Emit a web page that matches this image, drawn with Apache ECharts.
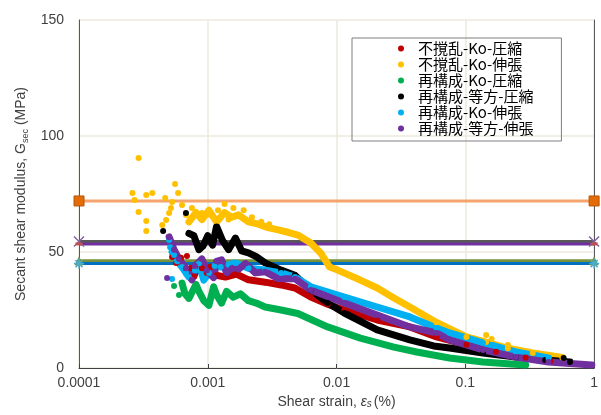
<!DOCTYPE html>
<html>
<head>
<meta charset="utf-8">
<script src="https://cdn.jsdelivr.net/npm/echarts@6/dist/echarts.min.js"></script>
<style>
  html, body { margin: 0; padding: 0; background: #fff; }
  #chart { width: 601px; height: 415px; }
</style>
</head>
<body>
<div id="chart"></div>
<script>
// 凡例の名前
const names = ['不撹乱-Ko-圧縮', '不撹乱-Ko-伸張', '再構成-Ko-圧縮', '再構成-等方-圧縮', '再構成-Ko-伸張', '再構成-等方-伸張'];
const colors = ['#C00000', '#FFC000', '#00B050', '#000000', '#00B0F0', '#7030A0'];
const xTicks = [0.0001, 0.001, 0.01, 0.1, 1];

// [strain(%), G(MPa)]  -- 初期のばらばらな点
const redScatter = [[5.28e-4, 47.8], [5.67e-4, 45.3], [6.2e-4, 47.5], [6.89e-4, 48.3], [8.53e-4, 45]];
const yellowScatter = [[2.60e-4, 75.4], [2.70e-4, 72.4], [2.90e-4, 67.2], [2.90e-4, 90.5], [3.33e-4, 74.6],
  [3.71e-4, 75.4], [3.33e-4, 63.4], [3.33e-4, 59.1], [4.43e-4, 61.6], [4.75e-4, 63.8], [5.01e-4, 66.8],
  [5.18e-4, 69], [5.28e-4, 71.6], [4.67e-4, 73.3], [5.57e-4, 79.3], [5.88e-4, 75.4], [6.31e-4, 70.3],
  [6.77e-4, 66], [7.53e-4, 69], [9.0e-4, 66.8], [1.05e-3, 66], [1.2e-3, 68], [1.35e-3, 70.7], [1.45e-3, 64],
  [1.58e-3, 69], [1.9e-3, 68], [2.2e-3, 65], [2.6e-3, 63], [3.0e-3, 62],
  [0.145, 14.2], [0.16, 12.5], [0.214, 9.9]];
const greenScatter = [[5.47e-4, 35.3], [5.98e-4, 31.5]];
const blackScatter = [[4.5e-4, 59], [6.77e-4, 66.8], [0.58, 4.3]];
const cyanScatter = [[5.01e-4, 55.2], [5.1e-4, 52], [5.47e-4, 48.7], [5.28e-4, 38.4]];
const purpleScatter = [[4.83e-4, 38.8], [5.01e-4, 56.5]];

// 密な点の帯
const redBand = [[7.4e-4, 43], [7.8e-4, 39.5], [8.53e-4, 45], [9.0e-4, 43], [9.83e-4, 41], [1.05e-3, 43.5],
  [1.17e-3, 40], [1.37e-3, 39.2], [1.67e-3, 40.5], [2.07e-3, 38], [2.79e-3, 37], [3.71e-3, 35.8],
  [4.75e-3, 34.5], [6.31e-3, 30.6], [8.53e-3, 27.5], [1.15e-2, 25], [2.07e-2, 20.7], [3.71e-2, 17.7],
  [5.98e-2, 13.4], [0.102, 10], [0.173, 7], [0.294, 4.5], [0.459, 3]];
const yellowBand = [[7.14e-4, 63], [8.09e-4, 67], [9.0e-4, 64], [1.02e-3, 68], [1.17e-3, 63], [1.35e-3, 67],
  [1.53e-3, 65], [1.73e-3, 66], [2.07e-3, 63], [2.47e-3, 62], [2.94e-3, 60.5], [3.52e-3, 59.5],
  [4.2e-3, 58.5], [5.01e-3, 57.3], [6.31e-3, 53.9], [7.53e-3, 49.6], [8.84e-3, 43.5], [1.02e-2, 42.2],
  [1.53e-2, 37.9], [2.07e-2, 34.5], [2.79e-2, 30.2], [3.71e-2, 26.3], [5.98e-2, 19.6], [0.102, 13.4],
  [0.145, 11.2], [0.214, 8.5], [0.334, 6.5], [0.567, 4.5]];
const greenBand = [[6.31e-4, 36.6], [6.65e-4, 32], [7.14e-4, 30], [8.09e-4, 36], [8.53e-4, 33], [9.31e-4, 29],
  [1.02e-3, 27], [1.11e-3, 35], [1.17e-3, 31.5], [1.28e-3, 28], [1.40e-3, 33], [1.58e-3, 30.5],
  [1.79e-3, 32], [2.07e-3, 29], [2.38e-3, 28], [2.79e-3, 26.3], [3.71e-3, 25], [5.01e-3, 23.5],
  [8.53e-3, 17.7], [1.53e-2, 12.9], [2.79e-2, 9], [4.2e-2, 6.9], [0.0754, 4.3], [0.137, 2.6], [0.294, 1.3]];
const blackBand = [[7.14e-4, 58], [7.8e-4, 57], [8.53e-4, 51], [9.16e-4, 52.5], [1.0e-3, 57], [1.09e-3, 53],
  [1.17e-3, 61], [1.30e-3, 55], [1.45e-3, 51], [1.64e-3, 56], [1.83e-3, 50.5], [2.07e-3, 49.6],
  [2.38e-3, 48], [2.79e-3, 45.3], [3.71e-3, 42.2], [4.75e-3, 40], [6.31e-3, 33.6], [8.53e-3, 28],
  [1.15e-2, 23.7], [2.07e-2, 16.4], [3.71e-2, 12.1], [0.0567, 9.5], [0.0754, 8.6], [0.137, 6.5],
  [0.247, 4.7], [0.417, 3.5], [0.65, 2.6]];
const cyanBand = [[5.28e-4, 50], [5.78e-4, 46], [6.31e-4, 43.5], [6.77e-4, 41], [7.14e-4, 39.2], [7.94e-4, 42],
  [8.53e-4, 45], [9.31e-4, 37.9], [1.02e-3, 41], [1.13e-3, 44], [1.26e-3, 43.5], [1.45e-3, 44.5],
  [1.64e-3, 45.3], [2.07e-3, 43], [2.79e-3, 42.2], [3.71e-3, 41], [4.75e-3, 39.2], [6.31e-3, 35],
  [1.15e-2, 30.6], [2.07e-2, 26.3], [3.71e-2, 22], [5.98e-2, 17.2], [0.0754, 15.1], [0.137, 10.8],
  [0.247, 6.9], [0.442, 4.3]];
const purpleBand = [[5.01e-4, 56.5], [5.47e-4, 51], [5.98e-4, 47], [6.77e-4, 43], [7.53e-4, 38], [7.94e-4, 44],
  [9.0e-4, 47], [9.83e-4, 42], [1.11e-3, 39], [1.17e-3, 46], [1.28e-3, 46.6], [1.40e-3, 41],
  [1.53e-3, 43], [1.73e-3, 42.5], [1.96e-3, 45], [2.34e-3, 41], [2.79e-3, 41.5], [3.52e-3, 38.5],
  [4.75e-3, 38.5], [6.31e-3, 33.6], [1.15e-2, 28], [2.07e-2, 22.8], [3.71e-2, 17.7], [5.98e-2, 15.1],
  [0.0754, 12.1], [0.137, 7.8], [0.247, 4.7], [0.442, 2.6], [0.96, 1.3]];

// 水平の基準線
const refX = [0.0001, 1];
const refG = [72, 54.5, 53.5, 46.2, 45];
const refLineColors = ['#F4A46C', '#595959', '#7030A0', '#77933C', '#0070C0'];

const scatters = [redScatter, yellowScatter, greenScatter, blackScatter, cyanScatter, purpleScatter];
const bands = [redBand, yellowBand, greenBand, blackBand, cyanBand, purpleBand];

const refSymbols = [
  { symbol: 'rect', symbolSize: 10, itemStyle: { color: '#E36C09', borderColor: '#B65708', borderWidth: 1 } },
  { symbol: 'path://M0,0L10,10M10,0L0,10', symbolSize: 10, itemStyle: { color: 'none', borderColor: '#8064A2', borderWidth: 1.5 } },
  { symbol: 'rect', symbolSize: [7, 3], itemStyle: { color: '#C0504D' } },
  { symbol: 'triangle', symbolSize: 9, itemStyle: { color: '#77933C' } },
  { symbol: 'path://M5,0L5,10M0,5L10,5M1.5,1.5L8.5,8.5M8.5,1.5L1.5,8.5', symbolSize: 10, itemStyle: { color: 'none', borderColor: '#4BACC6', borderWidth: 1.5 } }
];

function createSeries() {
  const series = [];
  for (let i = 0; i < refG.length; i++) {
    series.push(Object.assign({
      name: 'ref' + i,
      type: 'line',
      z: 1,
      silent: true,
      data: refX.map(x => [x, refG[i]]),
      lineStyle: { color: refLineColors[i], width: 3 },
      showSymbol: true
    }, refSymbols[i]));
  }
  for (let i = 0; i < names.length; i++) {
    series.push({
      name: names[i],
      type: 'line',
      z: 3,
      data: bands[i],
      symbol: 'circle',
      symbolSize: 6,
      showSymbol: true,
      itemStyle: { color: colors[i] },
      lineStyle: { color: colors[i], width: 7, cap: 'round', join: 'round' }
    });
    series.push({
      name: names[i],
      type: 'scatter',
      z: 3,
      data: scatters[i],
      symbol: 'circle',
      symbolSize: 6,
      itemStyle: { color: colors[i], opacity: 1 }
    });
  }
  return series;
}

const axisTextColor = '#404040';
const font = '"Liberation Sans", Arial, "Noto Sans CJK JP", sans-serif';

const options = {
  backgroundColor: '#FFFFFF',
  animation: false,
  textStyle: { fontFamily: font },
  grid: { left: 79, right: 2, top: 20, bottom: 47 },
  legend: {
    data: names.map((n, i) => ({ name: n, icon: 'circle', itemStyle: { color: colors[i] } })),
    orient: 'vertical',
    left: 352,
    top: 38,
    itemWidth: 20,
    itemHeight: 6,
    itemGap: 1,
    padding: [3, 28, 5, 46],
    borderColor: '#7F7F7F',
    borderWidth: 1,
    textStyle: { fontSize: 15, color: '#000', fontFamily: '"Noto Sans CJK JP", "Liberation Sans", sans-serif', padding: [0, 0, 0, 2] }
  },
  xAxis: {
    type: 'log',
    logBase: 10,
    min: 0.0001,
    max: 1,
    name: '{a|Shear strain, }{e|ε}{s|s}{a|(%)}',
    nameLocation: 'middle',
    nameGap: 25,
    nameTextStyle: {
      rich: {
        a: { fontSize: 14, color: axisTextColor, fontFamily: font },
        e: { fontSize: 14, color: axisTextColor, fontStyle: 'italic', fontFamily: font },
        s: { fontSize: 10, color: axisTextColor, fontStyle: 'italic', fontFamily: font, verticalAlign: 'bottom', padding: [4, 2, 0, 0] }
      }
    },
    axisLine: { show: true, lineStyle: { color: '#404040', width: 1 } },
    axisTick: { show: true, inside: true, length: 4, lineStyle: { color: '#404040' } },
    minorTick: { show: false },
    axisLabel: {
      fontSize: 14, color: axisTextColor, margin: 8,
      formatter: v => {
        const t = xTicks.find(k => Math.abs(k - v) / k < 1e-6);
        return t !== undefined ? String(t) : '';
      }
    },
    splitLine: { show: true, lineStyle: { color: '#ECE9DC', width: 1.5 } }
  },
  yAxis: [{
    type: 'value',
    min: 0,
    max: 150,
    interval: 50,
    name: '{a|Secant shear modulus, G}{s|sec}{a| (MPa)}',
    nameLocation: 'middle',
    nameGap: 46,
    nameTextStyle: {
      rich: {
        a: { fontSize: 14, color: axisTextColor, fontFamily: font, lineHeight: 18 },
        s: { fontSize: 9, color: axisTextColor, fontFamily: font, lineHeight: 18, verticalAlign: 'bottom' }
      }
    },
    axisLine: { show: true, lineStyle: { color: '#595959', width: 1 } },
    axisTick: { show: false },
    axisLabel: { fontSize: 14, color: axisTextColor, margin: 15 },
    splitLine: { show: true, lineStyle: { color: '#ECE9DC', width: 1.5 } }
  }, {
    type: 'value',
    position: 'right',
    min: 0,
    max: 150,
    interval: 50,
    axisLine: { show: true, lineStyle: { color: '#595959', width: 1 } },
    axisTick: { show: false },
    axisLabel: { show: false },
    splitLine: { show: false }
  }],
  series: createSeries()
};

const chart = echarts.init(document.getElementById('chart'));
chart.setOption(options);
</script>
</body>
</html>
